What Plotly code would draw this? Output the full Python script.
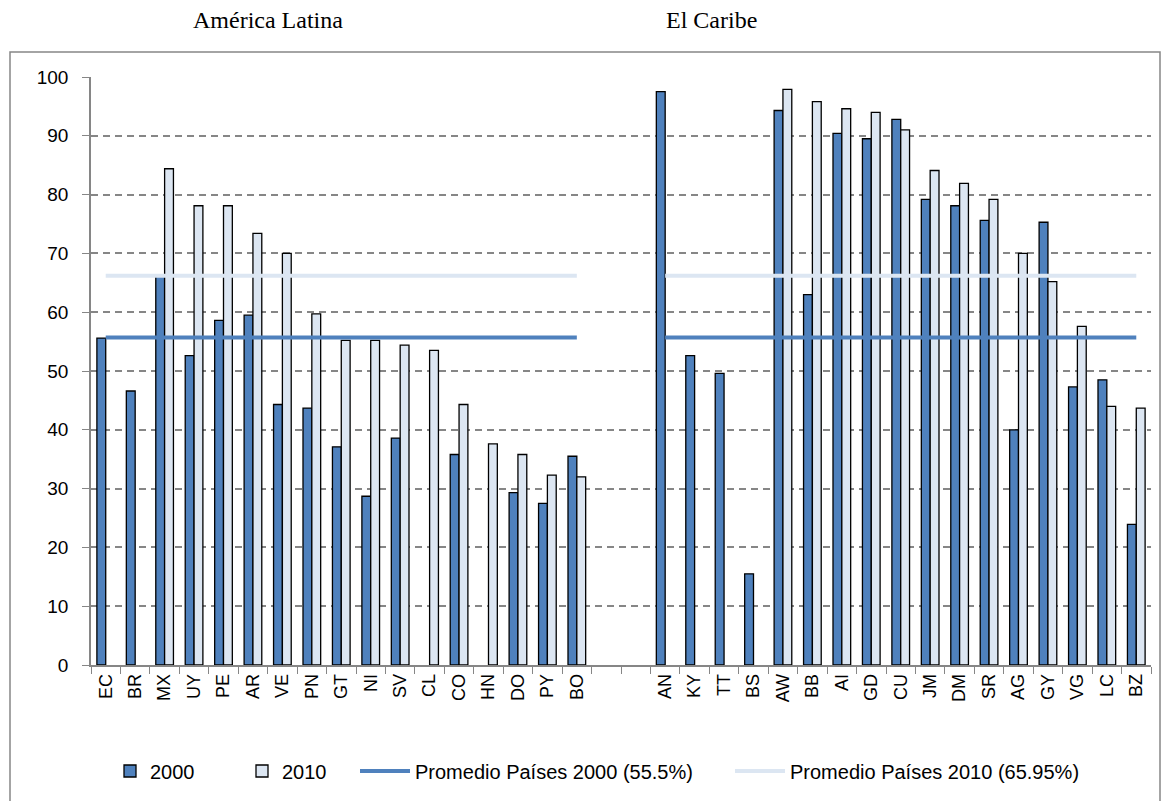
import plotly.graph_objects as go

latam = ["EC", "BR", "MX", "UY", "PE", "AR", "VE", "PN", "GT", "NI", "SV", "CL", "CO", "HN", "DO", "PY", "BO"]
latam_2000 = [55.6, 46.6, 66.2, 52.6, 58.6, 59.5, 44.3, 43.7, 37.1, 28.7, 38.6, None, 35.8, None, 29.3, 27.5, 35.5]
latam_2010 = [None, None, 84.4, 78.1, 78.1, 73.4, 70.0, 59.7, 55.2, 55.2, 54.4, 53.5, 44.3, 37.6, 35.8, 32.3, 32.0]

caribe = ["AN", "KY", "TT", "BS", "AW", "BB", "AI", "GD", "CU", "JM", "DM", "SR", "AG", "GY", "VG", "LC", "BZ"]
caribe_2000 = [97.5, 52.6, 49.6, 15.5, 94.3, 63.0, 90.4, 89.5, 92.8, 79.2, 78.1, 75.6, 40.0, 75.3, 47.3, 48.5, 23.9]
caribe_2010 = [None, None, None, None, 97.9, 95.8, 94.6, 94.0, 91.0, 84.1, 81.9, 79.2, 70.0, 65.2, 57.6, 44.0, 43.7]

blank = [" ", "  "]
prom_2000 = 55.7
prom_2010 = 66.2

cats = latam + blank + caribe
v2000 = latam_2000 + [None, None] + caribe_2000
v2010 = latam_2010 + [None, None] + caribe_2010
line_2000 = [prom_2000] * len(latam) + [None, None] + [prom_2000] * len(caribe)
line_2010 = [prom_2010] * len(latam) + [None, None] + [prom_2010] * len(caribe)

DARK = "#4F81BD"
LIGHT = "#DCE6F2"
GRID = "#868686"
SANS = "Liberation Sans, Arial, sans-serif"
SERIF = "Liberation Serif, serif"

# plot area: x 91..1151, y 77..666 in the 1167x801 page
L, R, T, B = 91, 16, 77, 135
W = 1167 - L - R
H = 801 - T - B


def px_x(x):
    return (x - L) / W


def px_y(y):
    return (801 - B - y) / H


def leg(x, itemwidth=30):
    return {"orientation": "h", "x": px_x(x), "xanchor": "left", "y": px_y(771), "yanchor": "middle",
            "itemwidth": itemwidth, "font": {"size": 20, "family": SANS}, "bgcolor": "rgba(0,0,0,0)"}


fig = go.Figure(
    data=[
        go.Bar(name="2000", x=cats, y=v2000,
               marker={"color": DARK, "line": {"color": "black", "width": 1.3}}),
        go.Bar(name="2010", x=cats, y=v2010, legend="legend2",
               marker={"color": LIGHT, "line": {"color": "black", "width": 1.3}}),
        go.Scatter(name="Promedio Países 2000 (55.5%)", x=cats, y=line_2000, mode="lines", legend="legend3",
                   line={"color": DARK, "width": 4}, connectgaps=False),
        go.Scatter(name="Promedio Países 2010 (65.95%)", x=cats, y=line_2010, mode="lines", legend="legend4",
                   line={"color": LIGHT, "width": 4}, connectgaps=False),
    ],
    layout={
        "width": 1167,
        "height": 801,
        "margin": {"l": L, "r": R, "t": T, "b": B},
        "paper_bgcolor": "white",
        "plot_bgcolor": "white",
        "barmode": "group",
        "bargap": 0.4,
        "bargroupgap": 0,
        "showlegend": True,
        "font": {"family": SANS, "color": "black", "size": 16},
        "xaxis": {
            "type": "category",
            "categoryorder": "array",
            "categoryarray": cats,
            "tickangle": -90,
            "tickson": "boundaries",
            "ticks": "outside",
            "ticklen": 7,
            "tickcolor": GRID,
            "showline": True,
            "linecolor": GRID,
            "linewidth": 1.5,
            "showgrid": False,
            "automargin": False,
            "tickfont": {"size": 18, "color": "black"},
        },
        "yaxis": {
            "range": [0, 100],
            "dtick": 10,
            "ticks": "outside",
            "ticklen": 7,
            "tickcolor": GRID,
            "ticklabelstandoff": 10,
            "showline": True,
            "linecolor": GRID,
            "linewidth": 1.5,
            "showgrid": True,
            "gridcolor": GRID,
            "griddash": "7px,5px",
            "gridwidth": 1.6,
            "zeroline": False,
            "automargin": False,
            "tickfont": {"size": 19},
        },
        "legend": leg(110),
        "legend2": leg(242),
        "legend3": leg(355, 50),
        "legend4": leg(730, 50),
        "annotations": [
            {"text": "América Latina", "xref": "paper", "yref": "paper", "x": px_x(268), "y": px_y(20),
             "xanchor": "center", "yanchor": "middle", "showarrow": False,
             "font": {"family": SERIF, "size": 24}},
            {"text": "El Caribe", "xref": "paper", "yref": "paper", "x": px_x(711), "y": px_y(20),
             "xanchor": "center", "yanchor": "middle", "showarrow": False,
             "font": {"family": SERIF, "size": 24}},
        ],
        "shapes": [
            {"type": "rect", "xref": "paper", "yref": "paper",
             "x0": px_x(10), "x1": px_x(1160), "y0": px_y(830), "y1": px_y(52),
             "line": {"color": GRID, "width": 1.5}, "layer": "below"},
        ],
    },
)

fig.write_html("out.html", config={"displayModeBar": False},
               post_script="document.body.style.margin='0';")
